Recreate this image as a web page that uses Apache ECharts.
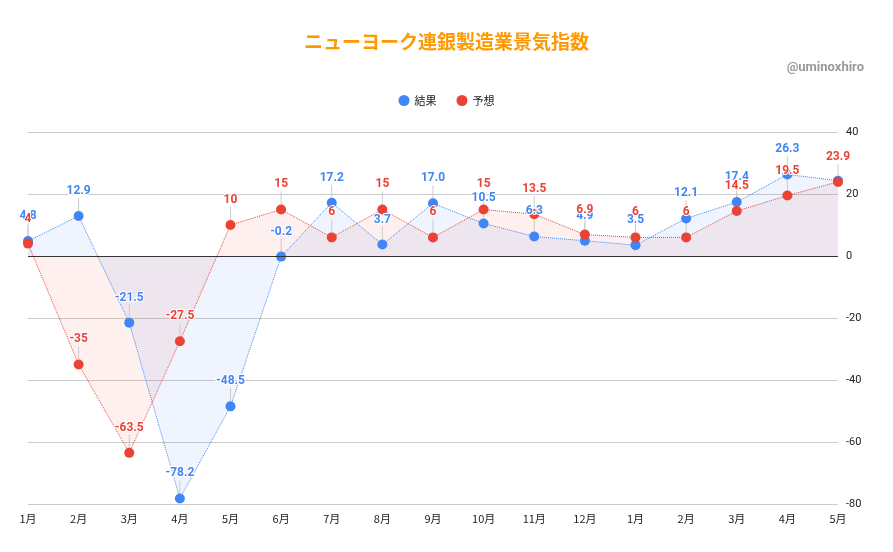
<!DOCTYPE html>
<html>
<head>
<meta charset="utf-8">
<script src="https://cdn.jsdelivr.net/npm/echarts@6/dist/echarts.min.js"></script>
<style>
html, body { margin: 0; padding: 0; background: #fff; }
#chart { width: 893px; height: 552px; }
</style>
</head>
<body>
<div id="chart"></div>
<script>
var months = ['1月', '2月', '3月', '4月', '5月', '6月', '7月', '8月', '9月', '10月', '11月', '12月', '1月', '2月', '3月', '4月', '5月'];
var actual = [4.8, 12.9, -21.5, -78.2, -48.5, -0.2, 17.2, 3.7, 17.0, 10.5, 6.3, 4.9, 3.5, 12.1, 17.4, 26.3, 24.3];
var forecast = [4, -35, -63.5, -27.5, 10, 15, 6, 15, 6, 15, 13.5, 6.9, 6, 6, 14.5, 19.5, 23.9];
var yTicks = [-80, -60, -40, -20, 0, 20, 40];

var blue = '#4285f4';
var red = '#ea4335';
var font = 'Roboto, "Noto Sans CJK JP", sans-serif';

function makeSeries(name, data, color, fill, fmt) {
    return {
        name: name,
        type: 'line',
        data: data.map(function (v, i) {
            // last blue label is covered by the red one in the original
            if (name === '結果' && i === data.length - 1) {
                return { value: v, label: { show: false }, labelLine: { show: false } };
            }
            return v;
        }),
        symbol: 'circle',
        symbolSize: 10,
        itemStyle: { color: color },
        lineStyle: { color: color, width: 1, type: 'dotted' },
        areaStyle: { color: fill, origin: 0 },
        label: {
            show: true,
            position: 'top',
            distance: 4,
            color: color,
            fontSize: 12,
            fontWeight: 'bold',
            fontFamily: font,
            textBorderColor: '#fff',
            textBorderWidth: 2,
            formatter: function (p) { return fmt(p.value); }
        },
        labelLayout: { dy: -10 },
        labelLine: { show: true, lineStyle: { color: '#ccc', width: 1 } },
        emphasis: { disabled: true }
    };
}

var chart = echarts.init(document.getElementById('chart'));
var s1 = makeSeries('結果', actual, blue, 'rgba(66,133,244,0.12)', function (v) { return v.toFixed(1); });
var s2 = makeSeries('予想', forecast, red, 'rgba(234,67,53,0.11)', function (v) { return String(v); });
s2.markLine = {
    silent: true,
    symbol: ['none', 'none'],
    label: { show: false },
    lineStyle: { color: '#333', width: 1, type: 'solid' },
    data: [{ yAxis: 0 }]
};

chart.setOption({
    animation: false,
    title: {
        text: 'ニューヨーク連銀製造業景気指数',
        left: 'center',
        top: 27,
        textStyle: { color: '#ff9900', fontSize: 19, fontWeight: 'bold', fontFamily: '"Noto Sans CJK JP", sans-serif' }
    },
    graphic: [{
        type: 'text',
        right: 29,
        top: 61,
        style: { text: '@uminoxhiro', fill: '#999', font: 'bold 13px ' + font }
    }],
    legend: {
        top: 90,
        left: 'center',
        icon: 'circle',
        itemWidth: 11,
        itemHeight: 11,
        itemGap: 20,
        textStyle: { color: '#222', fontSize: 11, fontFamily: '"Noto Sans CJK JP", sans-serif' },
        data: ['結果', '予想']
    },
    grid: { left: 28, right: 55, top: 132, bottom: 48 },
    xAxis: {
        type: 'category',
        data: months,
        boundaryGap: false,
        axisLine: { show: false },
        axisTick: { show: false },
        axisLabel: { color: '#222', fontSize: 11, margin: 9, fontFamily: '"Noto Sans CJK JP", sans-serif' }
    },
    yAxis: {
        type: 'value',
        position: 'right',
        min: yTicks[0],
        max: yTicks[yTicks.length - 1],
        interval: 20,
        axisLine: { show: false },
        axisTick: { show: false },
        axisLabel: { color: '#222', fontSize: 11, margin: 8, fontFamily: font },
        splitLine: { lineStyle: { color: '#ccc', width: 1 } }
    },
    series: [s1, s2]
});
</script>
</body>
</html>
